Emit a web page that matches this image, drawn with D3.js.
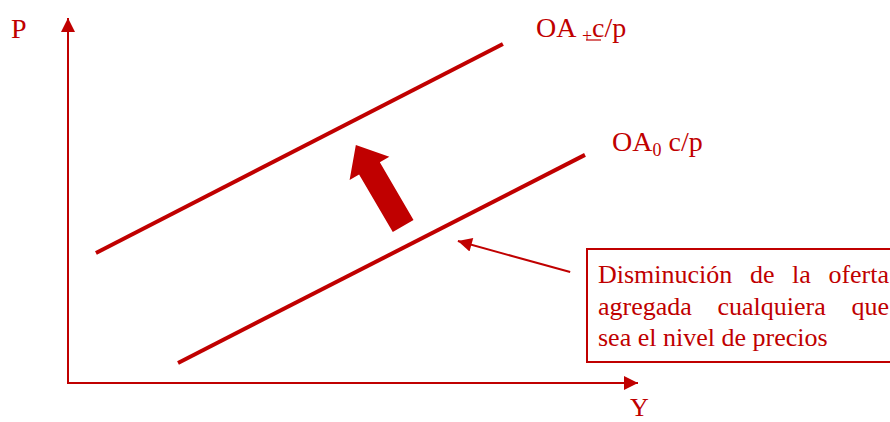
<!DOCTYPE html>
<html>
<head>
<meta charset="utf-8">
<script src="https://cdn.jsdelivr.net/npm/d3@7"></script>
<style>
	body { margin: 0; background: #fff; }
	text { font-family: "Liberation Serif", "Times New Roman", serif; fill: #c00000; }
</style>
</head>
<body>
<svg id="chart" width="890" height="422"></svg>
<script>
// supply curves, in abstract (Y, P) units
var ofertaInicial = [[19.3, 5.5], [90.7, 62.5]];
var ofertaNueva = [[4.9, 35.6], [76.3, 92.9]];
// thick shift arrow: tail -> tip
var desplazamiento = [[58.8, 43.0], [50.5, 65.2]];
// callout arrow: box -> curve
var llamada = [[88.1, 30.4], [68.4, 38.9]];
var etiquetas = ["OA", "OA"];
var notaLineas = [
	["Disminución", "de", "la", "oferta"],
	["agregada", "cualquiera", "que"],
	["sea el nivel de precios"]
];

var red = "#c00000";
var svg = d3.select("#chart");

var x = d3.scaleLinear().domain([0, 100]).range([68, 638]);
var y = d3.scaleLinear().domain([0, 100]).range([383, 18]);

var defs = svg.append("defs");
defs.append("marker")
	.attr("id", "head")
	.attr("viewBox", "0 0 10 10")
	.attr("refX", 10).attr("refY", 5)
	.attr("markerUnits", "userSpaceOnUse")
	.attr("markerWidth", 17).attr("markerHeight", 14)
	.attr("orient", "auto")
	.append("path").attr("d", "M0,0 L10,5 L0,10 Z").attr("fill", red);

// axes
svg.append("line")
	.attr("x1", x(0)).attr("y1", y(0)).attr("x2", x(0)).attr("y2", y(100))
	.attr("stroke", red).attr("stroke-width", 2).attr("marker-end", "url(#head)");
svg.append("line")
	.attr("x1", x(0) - 1).attr("y1", y(0)).attr("x2", x(100)).attr("y2", y(0))
	.attr("stroke", red).attr("stroke-width", 2).attr("marker-end", "url(#head)");

svg.append("text").attr("x", 11).attr("y", 38).attr("font-size", 28).text("P");
svg.append("text").attr("x", 630).attr("y", 416).attr("font-size", 26).text("Y");

// supply curves
var line = d3.line().x(function(d) { return x(d[0]); }).y(function(d) { return y(d[1]); });
[ofertaInicial, ofertaNueva].forEach(function(c) {
	svg.append("path").attr("d", line(c))
		.attr("fill", "none").attr("stroke", red).attr("stroke-width", 4);
});

// labels
var l1 = svg.append("text").attr("x", 536).attr("y", 37).attr("font-size", 28);
l1.append("tspan").text(etiquetas[1] + " ");
l1.append("tspan").attr("font-size", 18).attr("dy", 5).text("+");
l1.append("tspan").attr("dy", -5).text("c/p");
svg.append("line").attr("x1", 586).attr("x2", 601).attr("y1", 40).attr("y2", 40)
	.attr("stroke", red).attr("stroke-width", 1.2);

var l0 = svg.append("text").attr("x", 612).attr("y", 151).attr("font-size", 28);
l0.append("tspan").text(etiquetas[0]);
l0.append("tspan").attr("font-size", 18).attr("dy", 5).text("0");
l0.append("tspan").attr("dy", -5).text(" c/p");

// thick shift arrow
(function() {
	var tx = x(desplazamiento[0][0]), ty = y(desplazamiento[0][1]);
	var hx = x(desplazamiento[1][0]), hy = y(desplazamiento[1][1]);
	var dx = hx - tx, dy = hy - ty, len = Math.sqrt(dx * dx + dy * dy);
	var ux = dx / len, uy = dy / len, nx = -uy, ny = ux;
	var headLen = 27, headW = 23, shaftW = 12;
	var bx = hx - ux * headLen, by = hy - uy * headLen;
	var pts = [
		[tx + nx * shaftW, ty + ny * shaftW],
		[bx + nx * shaftW, by + ny * shaftW],
		[bx + nx * headW, by + ny * headW],
		[hx, hy],
		[bx - nx * headW, by - ny * headW],
		[bx - nx * shaftW, by - ny * shaftW],
		[tx - nx * shaftW, ty - ny * shaftW]
	];
	svg.append("polygon").attr("points", pts.map(function(p) { return p.join(","); }).join(" "))
		.attr("fill", red);
})();

// callout arrow
svg.append("line")
	.attr("x1", x(llamada[0][0])).attr("y1", y(llamada[0][1]))
	.attr("x2", x(llamada[1][0])).attr("y2", y(llamada[1][1]))
	.attr("stroke", red).attr("stroke-width", 2).attr("marker-end", "url(#head)");

// note box
svg.append("rect").attr("x", 587).attr("y", 249).attr("width", 320).attr("height", 113)
	.attr("fill", "none").attr("stroke", red).attr("stroke-width", 2);

var left = 598, right = 889, fs = 26, baseline = 283, lh = 31.5;
notaLineas.forEach(function(words, i) {
	var yy = baseline + i * lh;
	if (words.length == 1) {
		svg.append("text").attr("x", left).attr("y", yy).attr("font-size", fs).text(words[0]);
		return;
	}
	// justified: measure words and spread the gaps
	var tmp = words.map(function(w) {
		return svg.append("text").attr("font-size", fs).attr("y", yy).text(w);
	});
	var widths = tmp.map(function(t) { return t.node().getComputedTextLength(); });
	var total = d3.sum(widths);
	var gap = (right - left - total) / (words.length - 1);
	var cx = left;
	tmp.forEach(function(t, j) {
		t.attr("x", cx);
		cx += widths[j] + gap;
	});
});
</script>
</body>
</html>
